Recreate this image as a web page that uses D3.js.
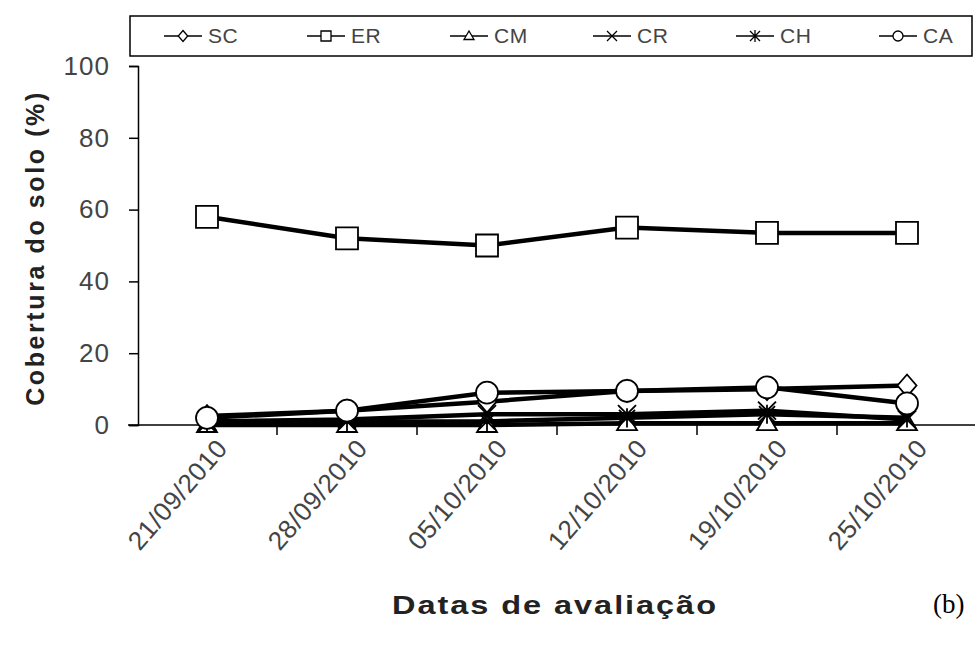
<!DOCTYPE html>
<html><head><meta charset="utf-8">
<script src="https://cdn.jsdelivr.net/npm/d3@7"></script>
<style>body{margin:0;background:#fff}svg{display:block}</style>
</head><body>
<svg id="c" width="975" height="650"></svg>
<script>
const dates = ["21/09/2010","28/09/2010","05/10/2010","12/10/2010","19/10/2010","25/10/2010"];
const seriesNames = ["SC","ER","CM","CR","CH","CA"];
const SC = [2.5, 4, 6.5, 9.5, 10, 11];
const ER = [58, 52, 50, 55, 53.5, 53.5];
const CM = [0, 0, 0, 0.5, 0.5, 0.5];
const CR = [1, 1.5, 3, 3, 4, 1.5];
const CH = [0.5, 1, 1, 2, 3, 2];
const CA = [2, 4, 9, 9.5, 10.5, 6];
const yTicks = [0, 20, 40, 60, 80, 100];

const values = {SC, ER, CM, CR, CH, CA};
const markers = {SC:"diamond", ER:"square", CM:"triangle", CR:"x", CH:"star", CA:"circle"};
const FONT = "Liberation Sans, Arial, sans-serif";

const svg = d3.select("#c");
const x = d3.scaleBand().domain(dates).range([137, 977]).padding(0);
const y = d3.scaleLinear().domain([0, 100]).range([425, 66]);

function markerPath(type, s) {
  const p = d3.path();
  if (type === "diamond") { p.moveTo(0,-s*1.1); p.lineTo(s*0.95,0); p.lineTo(0,s*1.1); p.lineTo(-s*0.95,0); p.closePath(); }
  else if (type === "square") { p.rect(-s, -s, 2*s, 2*s); }
  else if (type === "triangle") { p.moveTo(0,-s); p.lineTo(s,s*0.7); p.lineTo(-s,s*0.7); p.closePath(); }
  else if (type === "x") { p.moveTo(-s,-s); p.lineTo(s,s); p.moveTo(s,-s); p.lineTo(-s,s); }
  else if (type === "star") { p.moveTo(-s,-s); p.lineTo(s,s); p.moveTo(s,-s); p.lineTo(-s,s); p.moveTo(0,-s*1.2); p.lineTo(0,s*1.2); }
  else if (type === "circle") { p.arc(0,0,s,0,2*Math.PI); }
  return p.toString();
}
const mSize = {SC:10, ER:11, CM:10, CR:9, CH:8, CA:11};

// Y axis
const yAxis = d3.axisLeft(y).tickValues(yTicks).tickSize(9).tickPadding(19);
const gy = svg.append("g").attr("transform", "translate(138,0)").call(yAxis);
gy.select(".domain").attr("stroke", "#000").attr("stroke-width", 1.5);
gy.selectAll(".tick line").attr("stroke", "#000").attr("stroke-width", 1.5);
gy.selectAll("text").attr("font-family", FONT).attr("font-size", 26).attr("letter-spacing", 1).attr("fill", "#444");

// X axis with ticks at band boundaries
const gx = svg.append("g").attr("transform", "translate(0,425)");
gx.append("line").attr("x1", 128).attr("x2", 977).attr("stroke", "#000").attr("stroke-width", 1.5);
gx.selectAll("line.tk").data(dates.slice(1)).join("line").attr("class","tk")
  .attr("x1", d => x(d)).attr("x2", d => x(d)).attr("y1", 0).attr("y2", 10)
  .attr("stroke", "#000").attr("stroke-width", 1.5);
gx.selectAll("text").data(dates).join("text")
  .attr("transform", d => `translate(${x(d) + x.bandwidth()/2 + 22},${24}) rotate(-49)`)
  .attr("text-anchor", "end")
  .attr("font-family", FONT).attr("font-size", 26).attr("letter-spacing", 0.6).attr("fill", "#444")
  .text(d => d);

// Series
const line = d3.line().x((d, i) => x(dates[i]) + x.bandwidth()/2).y(d => y(d));
seriesNames.forEach(name => {
  const g = svg.append("g");
  g.append("path").attr("d", line(values[name])).attr("fill", "none").attr("stroke", "#000").attr("stroke-width", 4.5).attr("stroke-linejoin", "round");
  g.selectAll("path.m").data(values[name]).join("path").attr("class","m")
    .attr("transform", (d, i) => `translate(${x(dates[i]) + x.bandwidth()/2},${y(d)})`)
    .attr("d", markerPath(markers[name], mSize[name]))
    .attr("fill", markers[name] === "x" || markers[name] === "star" ? "none" : "#fff")
    .attr("stroke", "#000").attr("stroke-width", 1.8);
});

// Legend
const lg = svg.append("g");
lg.append("rect").attr("x", 130).attr("y", 16).attr("width", 842).attr("height", 40)
  .attr("fill", "#fff").attr("stroke", "#000").attr("stroke-width", 1.5);
seriesNames.forEach((name, i) => {
  const tx = 208 + i * 143;
  const gi = lg.append("g");
  gi.append("line").attr("x1", tx - 44).attr("x2", tx - 6).attr("y1", 36).attr("y2", 36).attr("stroke", "#000").attr("stroke-width", 1.5);
  gi.append("path").attr("transform", `translate(${tx - 25},36)`).attr("d", markerPath(markers[name], 5))
    .attr("fill", markers[name] === "x" || markers[name] === "star" ? "none" : "#fff").attr("stroke", "#000").attr("stroke-width", 1.3);
  gi.append("text").attr("x", tx).attr("y", 43).attr("font-family", FONT)
    .attr("font-size", 21).attr("letter-spacing", 0.5).attr("fill", "#444").text(name);
});

// Titles
svg.append("text").attr("transform", "translate(44,248) rotate(-90)").attr("text-anchor", "middle")
  .attr("font-family", FONT).attr("font-size", 25).attr("letter-spacing", 2.6).attr("font-weight", "bold").attr("fill", "#222")
  .text("Cobertura do solo (%)");
svg.append("text").attr("transform", "translate(555,614) scale(1.3,1)").attr("text-anchor", "middle")
  .attr("font-family", FONT).attr("font-size", 25).attr("letter-spacing", 1.5).attr("font-weight", "bold").attr("fill", "#222")
  .text("Datas de avaliação");
svg.append("text").attr("x", 933).attr("y", 613)
  .attr("font-family", "Liberation Serif, Times New Roman, serif").attr("font-size", 27).attr("fill", "#000")
  .text("(b)");
</script>
</body></html>
